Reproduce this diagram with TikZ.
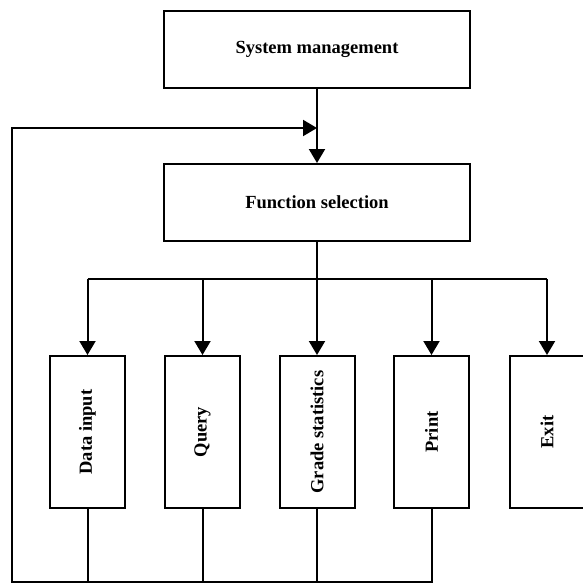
\documentclass[tikz,border=0pt]{standalone}
\usepackage{fontspec}
\setmainfont{Liberation Serif}
\usetikzlibrary{arrows.meta}

\begin{document}
\begin{tikzpicture}[x=1pt,y=-1pt]
        % styles
        \tikzstyle{box}=[draw, line width=2pt, inner sep=0pt, font=\fontsize{18.5}{20}\selectfont\bfseries]
        \tikzstyle{wide}=[box, minimum width=306pt, minimum height=77pt]
        \tikzstyle{tall}=[box, minimum width=75pt, minimum height=152pt]
        \tikzstyle{link}=[line width=2pt]
        \tikzstyle{flow}=[link, -{Triangle[length=14pt,width=16pt]}]

        \useasboundingbox (0,0) rectangle (582,584);

        % top boxes
        \node[wide] (sys) at (317,49.5) {System management};
        \node[wide] (func) at (317,202.5) {Function selection};

        % function boxes
        \node[tall] (data) at (87.5,432) {\rotatebox{90}{Data input}};
        \node[tall] (query) at (202.5,432) {\rotatebox{90}{Query}};
        \node[tall] (grade) at (317,432) {\rotatebox{90}{Grade statistics}};
        \node[tall] (print) at (431.5,432) {\rotatebox{90}{Print}};
        \node[tall] (exit) at (547,432) {\rotatebox{90}{Exit}};

        % helper points
        \coordinate (join) at (317,128);
        \coordinate (bus) at (317,279);
        \coordinate (corner) at (12,582);

        % main flow
        \draw[flow] (sys) -- (func);
        \draw[link] (func) -- (bus);
        \draw[link] (data |- bus) -- (exit |- bus);
        \draw[flow] (data |- bus) -- (data);
        \draw[flow] (query |- bus) -- (query);
        \draw[flow] (grade |- bus) -- (grade);
        \draw[flow] (print |- bus) -- (print);
        \draw[flow] (exit |- bus) -- (exit);

        % back to selection
        \draw[flow] (print.south) |- (corner) |- (join);
        \draw[link] (data.south) -- (data.south |- corner);
        \draw[link] (query.south) -- (query.south |- corner);
        \draw[link] (grade.south) -- (grade.south |- corner);
    \end{tikzpicture}
\end{document}
